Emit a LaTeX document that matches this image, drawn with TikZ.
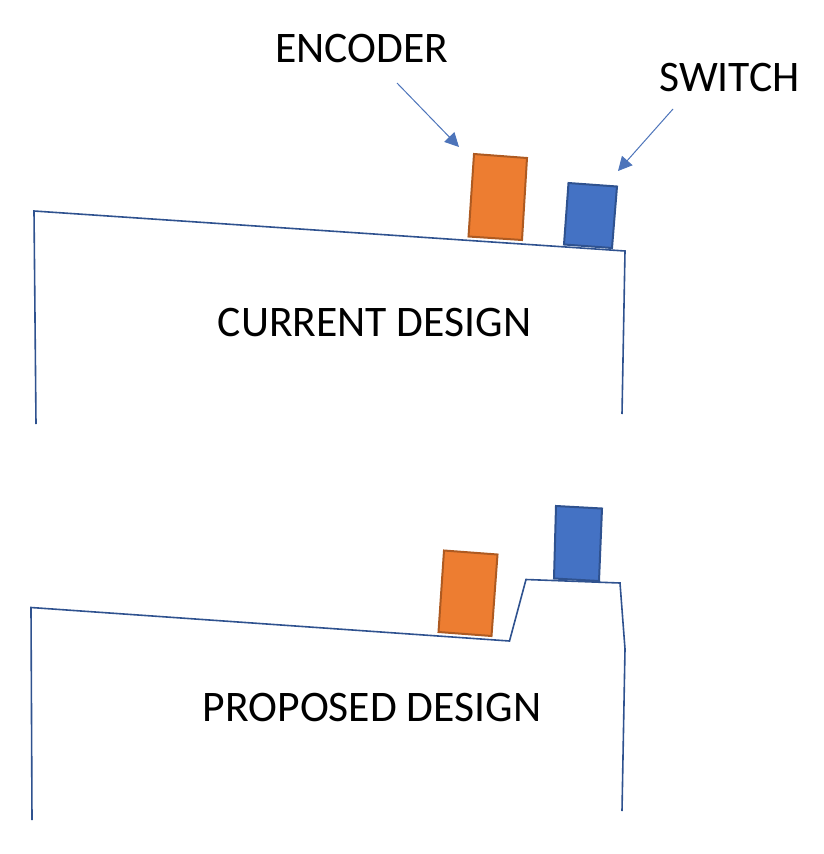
\documentclass[tikz,border=0pt]{standalone}
\usepackage{fontspec}
\setmainfont{Carlito}
\usetikzlibrary{arrows.meta}
\definecolor{outline}{RGB}{47,82,143}
\definecolor{thinblue}{RGB}{68,114,196}
\definecolor{encoderfill}{RGB}{237,125,49}
\definecolor{encoderline}{RGB}{174,90,33}
\definecolor{switchline}{RGB}{47,82,143}
\begin{document}
\begin{tikzpicture}[x=1pt,y=-1pt,
        body/.style={draw=outline, line width=1.6pt},
        encoderbox/.style={draw=encoderline, fill=encoderfill, line width=2pt},
        switchbox/.style={draw=switchline, fill=thinblue, line width=2pt},
        label/.style={inner sep=0pt, font=\fontsize{43.6}{44}\selectfont},
        arrow/.style={-{Triangle[length=14pt,width=14pt]}, draw=thinblue!85!gray, line width=1pt}
    ]
        \useasboundingbox (0,0) rectangle (824,854);
        \node[label] (encoder) at (362,49) {ENCODER};
        \node[label] (switch) at (729.5,78) {SWITCH};
        \node[label] (current) at (374.5,323) {CURRENT DESIGN};
        \node[label] (proposed) at (372,707) {PROPOSED DESIGN};

        \draw[body] (36,424) -- (34,211) -- (625,251) -- (622,414);
        \draw[encoderbox] (474,154) -- (527,158) -- (522,240) -- (468.5,236.5) -- cycle;
        \draw[switchbox] (568.5,183) -- (617,186.5) -- (612,248) -- (564,244.5) -- cycle;
        \coordinate (encodertail) at (397,83);
        \coordinate (encodertip) at (459,147);
        \coordinate (switchtail) at (673,109);
        \coordinate (switchtip) at (618,171);
        \draw[arrow] (encodertail) -- (encodertip);
        \draw[arrow] (switchtail) -- (switchtip);

        \draw[body] (32,820) -- (31,607.5) -- (509.5,641) -- (526,579.5) -- (620,583) -- (625,649) -- (622,811);
        \draw[encoderbox] (444,550.5) -- (497.5,554.5) -- (491.5,636) -- (438.5,632) -- cycle;
        \draw[switchbox] (556,506) -- (602,508.5) -- (599,581) -- (554,578.5) -- cycle;
    \end{tikzpicture}
\end{document}
